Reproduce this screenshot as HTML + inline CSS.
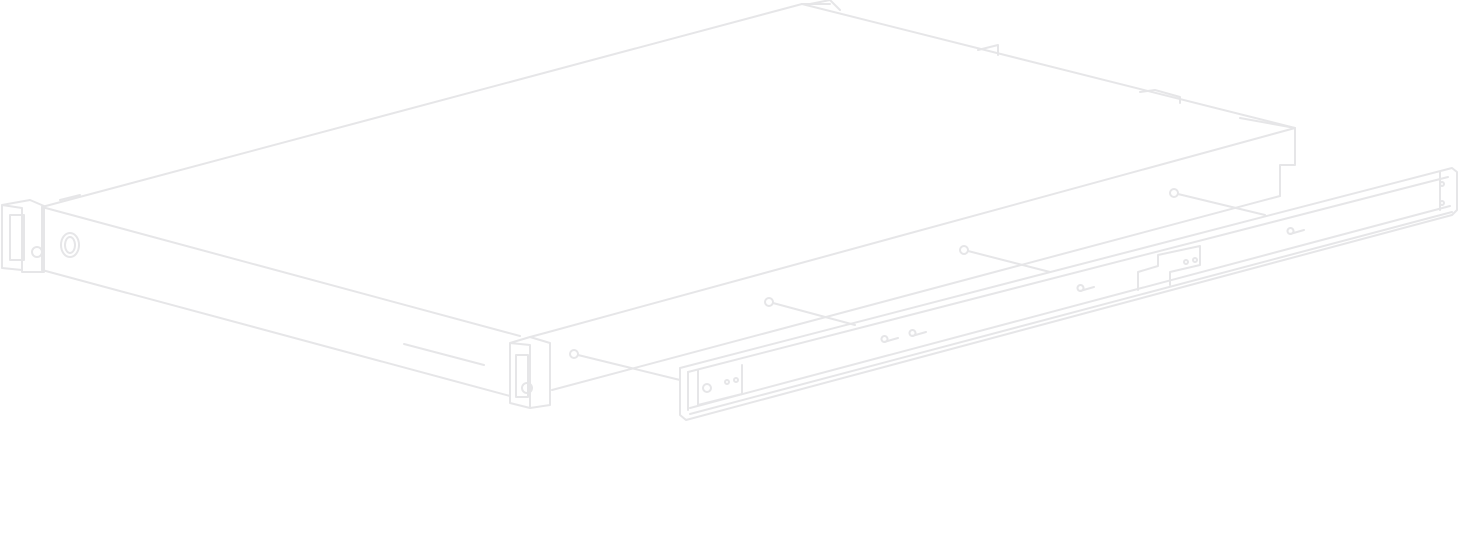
<!DOCTYPE html>
<html><head><meta charset="utf-8"><style>
html,body{margin:0;padding:0;background:#fff;width:1458px;height:542px;overflow:hidden}
</style></head><body>
<svg width="1458" height="542" viewBox="0 0 1458 542" xmlns="http://www.w3.org/2000/svg" fill="none" stroke="#e6e6e8" stroke-width="2" stroke-linejoin="round" stroke-linecap="round">
<!-- chassis top -->
<polyline points="42,207 802,4 1295,128 1295,165 1280,165 1280,196"/>
<line x1="802" y1="4" x2="830" y2="4"/>
<polyline points="810,4 830,0 840,10"/>
<polyline points="1140,92 1155,90 1180,97 1180,103"/>
<polyline points="978,50 998,45 998,55"/>
<line x1="1240" y1="118" x2="1295" y2="128"/>
<!-- front face -->
<line x1="42" y1="207" x2="520" y2="336"/>
<line x1="42" y1="270" x2="510" y2="396"/>
<line x1="42" y1="207" x2="42" y2="270"/>
<line x1="404" y1="344" x2="484" y2="365"/>
<!-- right side -->
<line x1="545" y1="333" x2="1295" y2="128"/>
<line x1="552" y1="390" x2="1280" y2="196"/>
<!-- left ear -->
<polyline points="2,205 30,200 44,206 44,272 22,272 22,208 2,205 2,268 22,270"/>
<rect x="10" y="215" width="14" height="45"/>
<circle cx="37" cy="252" r="5"/>
<ellipse cx="70" cy="245" rx="9" ry="12"/>
<ellipse cx="70" cy="245" rx="5" ry="8"/>
<line x1="60" y1="200" x2="80" y2="195"/>
<!-- right ear -->
<polyline points="510,343 530,337 550,343 550,405 530,408 530,345 510,343 510,403 530,408"/>
<rect x="516" y="355" width="12" height="42"/>
<circle cx="527" cy="388" r="5"/>
<line x1="530" y1="337" x2="545" y2="333"/>
<!-- pins -->
<circle cx="574" cy="354" r="4"/><line x1="578" y1="355" x2="680" y2="380" stroke-dasharray="0"/>
<circle cx="769" cy="302" r="4"/><line x1="773" y1="303" x2="855" y2="325"/>
<circle cx="964" cy="250" r="4"/><line x1="968" y1="251" x2="1050" y2="272"/>
<circle cx="1174" cy="193" r="4"/><line x1="1178" y1="194" x2="1265" y2="215"/>
<!-- rail -->
<polyline points="680,368 1452,168 1457,172 1457,210 1452,215 686,420 680,415 680,368"/>
<line x1="688" y1="372" x2="1448" y2="177"/>
<line x1="690" y1="408" x2="1450" y2="206"/>
<line x1="690" y1="414" x2="1452" y2="212"/>
<line x1="688" y1="372" x2="688" y2="410"/>
<polyline points="698,370 698,405 742,394 742,365"/>
<circle cx="707" cy="388" r="4"/>
<circle cx="727" cy="382" r="2"/><circle cx="736" cy="380" r="2"/>
<polyline points="1138,290 1138,272 1158,266 1158,255 1200,246 1200,265 1170,272 1170,285"/>
<circle cx="1186" cy="262" r="2"/><circle cx="1195" cy="260" r="2"/>
<line x1="1440" y1="172" x2="1440" y2="210"/>
<circle cx="1442" cy="184" r="2"/><circle cx="1442" cy="203" r="2"/>
<!-- keyholes -->
<path d="M884,342 l14,-4 M884,342 a3,3 0 1 1 1,0"/>
<path d="M912,336 l14,-4 M912,336 a3,3 0 1 1 1,0"/>
<path d="M1080,291 l14,-4 M1080,291 a3,3 0 1 1 1,0"/>
<path d="M1290,234 l14,-4 M1290,234 a3,3 0 1 1 1,0"/>
</svg>
</body></html>
